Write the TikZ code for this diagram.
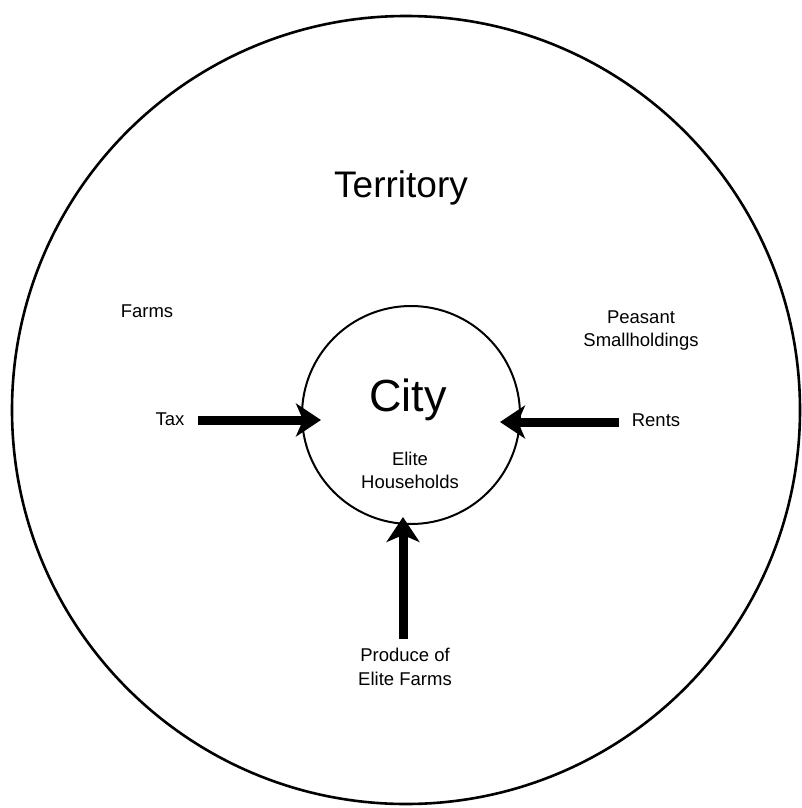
\documentclass[tikz,border=0pt]{standalone}
\usepackage{fontspec}
\setmainfont{Liberation Sans}
\usetikzlibrary{arrows.meta}
\begin{document}
\begin{tikzpicture}[x=1pt,y=-1pt,
  lbl/.style={font=\fontsize{18.5}{23}\selectfont, align=center, inner sep=0pt},
  flow/.style={line width=9pt, -{Stealth[length=25pt, width=33pt, inset=7pt]}}]
\useasboundingbox (0,0) rectangle (801,808);
\node[circle, draw, line width=2.6pt, minimum size=788pt, inner sep=0pt] (terr) at (406,410) {};
\node[circle, draw, line width=2pt, minimum size=218pt, inner sep=0pt] (city) at (411,415) {};
\node[font=\fontsize{37}{40}\selectfont, inner sep=0pt, anchor=base] (territory) at (401,197) {Territory};
\node[font=\fontsize{45}{48}\selectfont, inner sep=0pt, anchor=base] (citylbl) at (408,411) {City};
\node[lbl, anchor=base] (elite) at (410,465) {Elite};
\node[lbl, anchor=base] (house) at (410,488) {Households};
\node[lbl, anchor=base] (farms) at (147,317) {Farms};
\node[lbl, anchor=base] (peas) at (641,323) {Peasant};
\node[lbl, anchor=base] (small) at (641,346) {Smallholdings};
\node[lbl] (tax) at (170,419) {Tax};
\node[lbl] (rents) at (656,420) {Rents};
\node[lbl, anchor=base] (prod1) at (405,661) {Produce of};
\node[lbl, anchor=base] (prod2) at (405,685) {Elite Farms};
\coordinate (taxs) at (198,420);
\coordinate (taxt) at (321,420);
\coordinate (rents0) at (619,422);
\coordinate (rentt) at (500,422);
\coordinate (prods) at (403,639);
\coordinate (prodt) at (403,517);
\draw[flow] (taxs) -- (taxt);
\draw[flow] (rents0) -- (rentt);
\draw[flow] (prods) -- (prodt);
\end{tikzpicture}
\end{document}
